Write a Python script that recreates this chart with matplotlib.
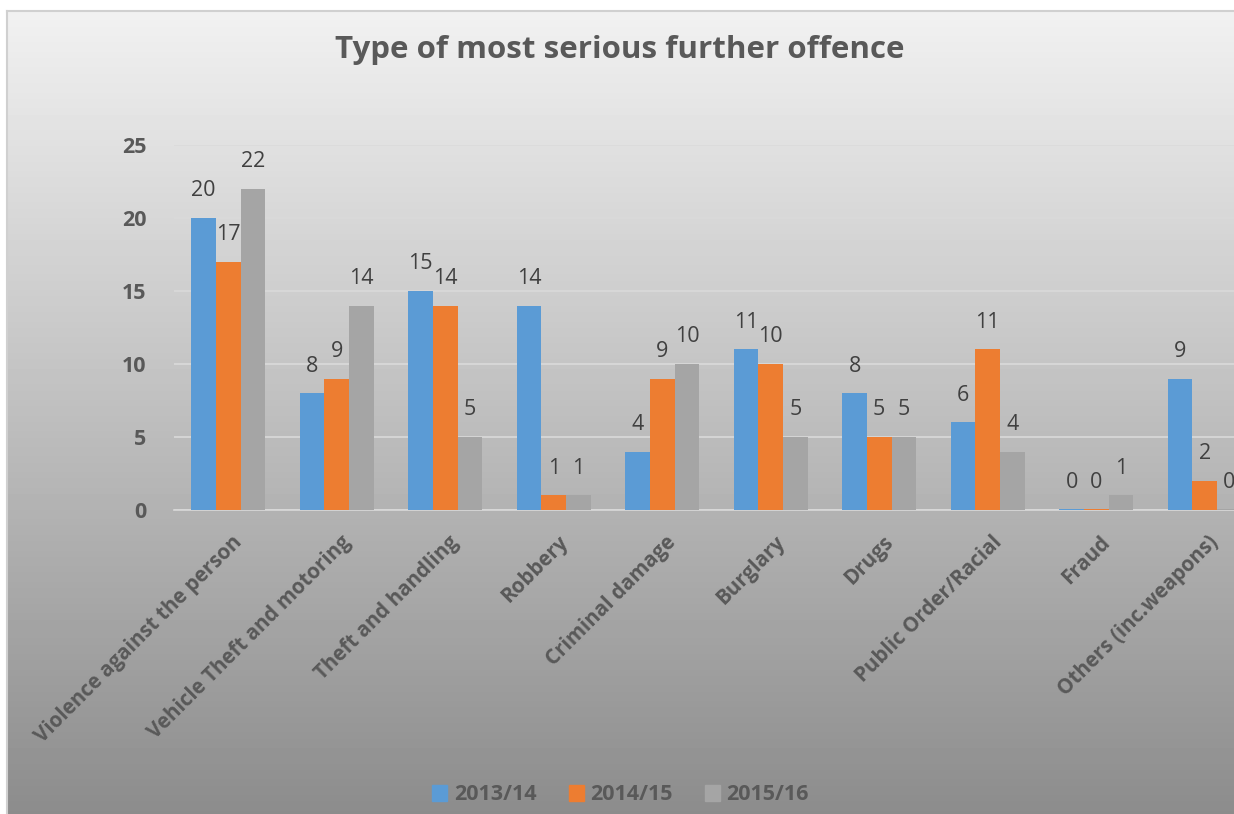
import numpy as np
import matplotlib
matplotlib.use("Agg")
import matplotlib.pyplot as plt
from matplotlib.patches import Patch

categories = ["Violence against the person", "Vehicle Theft and motoring", "Theft and handling",
              "Robbery", "Criminal damage", "Burglary", "Drugs", "Public Order/Racial",
              "Fraud", "Others (inc.weapons)"]
series_names = ["2013/14", "2014/15", "2015/16"]
values_1314 = [20, 8, 15, 14, 4, 11, 8, 6, 0, 9]
values_1415 = [17, 9, 14, 1, 9, 10, 5, 11, 0, 2]
values_1516 = [22, 14, 5, 1, 10, 5, 5, 4, 1, 0]
colors = ["#5b9bd5", "#ed7d31", "#a5a5a5"]
y_ticks = [0, 5, 10, 15, 20, 25]

plt.rcParams["font.family"] = ["Open Sans", "DejaVu Sans"]

W, H = 1234, 814
fig = plt.figure(figsize=(W / 100, H / 100), dpi=100)
fig.patch.set_facecolor("white")

# gradient background of the chart area
bg = fig.add_axes([7 / W, 0, 1 - 7 / W, 1 - 11 / H], zorder=0)
grad = np.linspace(0.945, 0.55, 256)[:, None]
bg.imshow(grad, aspect="auto", cmap="gray", vmin=0, vmax=1, extent=[0, 1, 0, 1])
bg.set_xticks([])
bg.set_yticks([])
for side, sp in bg.spines.items():
    sp.set_color("#d0d0d0")
    sp.set_linewidth(1.5)
    if side in ("right", "bottom"):
        sp.set_visible(False)

ax = fig.add_axes([174 / W, 1 - 510 / H, 1085 / W, (510 - 145) / H], zorder=1)
ax.patch.set_alpha(0)

x = np.arange(len(categories))
width = 0.227
all_values = [values_1314, values_1415, values_1516]
for i, (vals, col, name) in enumerate(zip(all_values, colors, series_names)):
    pos = x + (i - 1) * width
    shown = [v if v > 0 else 0.08 for v in vals]
    ax.bar(pos, shown, width, color=col, label=name, zorder=3)
    for p, v in zip(pos, vals):
        ax.text(p, v + 1.85, str(v), ha="center", va="center", fontsize=15.5,
                color="#404040", zorder=4)

ax.set_xlim(-0.5, len(categories) - 0.5)
ax.set_ylim(0, 25)
ax.set_yticks(y_ticks)
ax.set_yticklabels([str(t) for t in y_ticks], fontsize=15.5, fontweight="bold", color="#595959")
ax.tick_params(axis="y", length=0, pad=20)
ax.tick_params(axis="x", length=0)
ax.set_xticks(x)
ax.set_xticklabels([])
for xi, lab in zip(x, categories):
    ax.text(xi + 0.1, -2.0, lab, rotation=45, ha="right", va="center", rotation_mode="anchor",
            fontsize=14.8, fontweight="bold", color="#595959", clip_on=False)
ax.grid(axis="y", color="#dadada", linewidth=1.2, zorder=0)
for sp in ["top", "right", "left"]:
    ax.spines[sp].set_visible(False)
ax.spines["bottom"].set_color("#d9d9d9")
ax.spines["bottom"].set_linewidth(1.2)

fig.text(0.502, 1 - 50 / H, "Type of most serious further offence", ha="center", va="center",
         fontsize=22.5, fontweight="bold", color="#595959")

handles = [Patch(color=c, label=n) for c, n in zip(colors, series_names)]
fig.legend(handles=handles, loc="center", bbox_to_anchor=(0.503, 1 - 795 / H), ncol=3,
           frameon=False, handlelength=0.7, handleheight=0.7, handletextpad=0.3,
           columnspacing=1.5, prop={"size": 15.5, "weight": "bold"}, labelcolor="#595959")

fig.savefig("out.png", dpi=100)
